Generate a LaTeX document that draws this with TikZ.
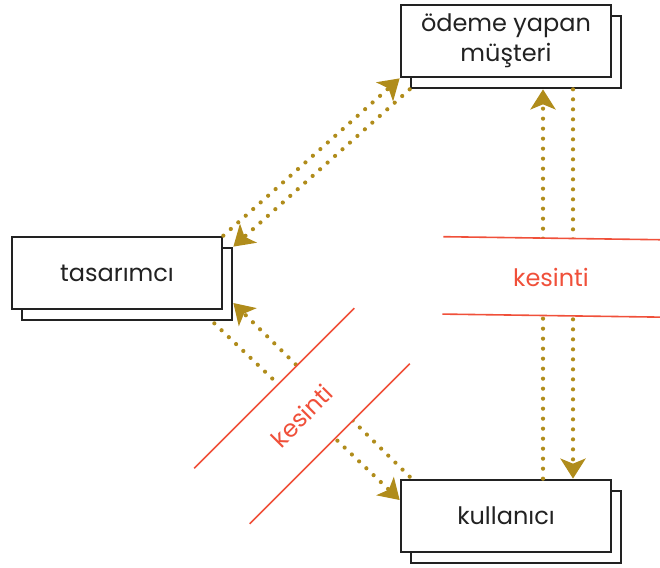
\documentclass[tikz,border=0pt]{standalone}
\usepackage{fontspec}
\setmainfont{Poppins}
\usetikzlibrary{arrows.meta,calc}
\definecolor{gold}{HTML}{B08C1B}
\definecolor{cutred}{HTML}{F0503A}
\definecolor{ink}{HTML}{222222}
\begin{document}
\begin{tikzpicture}[x=1pt,y=-1pt,
  cardshadow/.style={draw=ink, line width=2.7pt, fill=white,
    minimum width=210pt, minimum height=72pt, inner sep=0pt},
  card/.style={cardshadow, align=center, text=ink,
    font=\fontsize{24}{30}\selectfont},
  flow/.style={draw=gold, line width=4.2pt, line cap=round,
    dash pattern=on 0pt off 10pt,
    -{Stealth[length=20pt,width=25pt,inset=5pt]}},
  band/.style={fill=white, minimum height=77pt, inner sep=0pt,
    text=cutred, font=\fontsize{24}{30}\selectfont},
  cutline/.style={draw=cutred, line width=1.6pt}
]
\useasboundingbox (0,0) rectangle (660,567);

% cards with their offset back sheets
\node[cardshadow] (payer-sh) at (516,52) {};
\node[card] (payer) at (506,41) {ödeme yapan\\müşteri};
\node[cardshadow] (designer-sh) at (127,284) {};
\node[card] (designer) at (117,273) {tasarımcı};
\node[cardshadow] (user-sh) at (516,527) {};
\node[card] (user) at (506,516) {kullanıcı};

% payer <-> user
\draw[flow] ($(user.north)+(37,0)$) -- ($(payer-sh.south)+(27,0)$);
\draw[flow] ($(payer-sh.south)+(57,0)$) -- ($(user.north)+(67,0)$);

% designer <-> payer
\draw[flow] (designer.north east) -- (payer.south west);
\draw[flow] (payer-sh.south west) -- (designer-sh.north east);

% designer <-> user
\draw[flow] ($(designer-sh.south east)+(-19,2)$) -- ($(user.west)+(0,-16)$);
\draw[flow] ($(user.north west)+(10,-2)$) -- ($(designer-sh.east)+(0,19)$);

% cut bands
\node[band, minimum width=230pt, rotate=-0.8] (cut1) at (558,277) {};
\node[text=cutred, font=\fontsize{24}{30}\selectfont] (cut1txt) at (551,277) {kesinti};
\draw[cutline] (cut1.north west) -- (cut1.north east);
\draw[cutline] (cut1.south west) -- (cut1.south east);

\node[band, minimum width=226pt, minimum height=78pt, rotate=45] (cut2) at (302,416) {kesinti};
\draw[cutline] (cut2.north west) -- (cut2.north east);
\draw[cutline] (cut2.south west) -- (cut2.south east);
\end{tikzpicture}
\end{document}
